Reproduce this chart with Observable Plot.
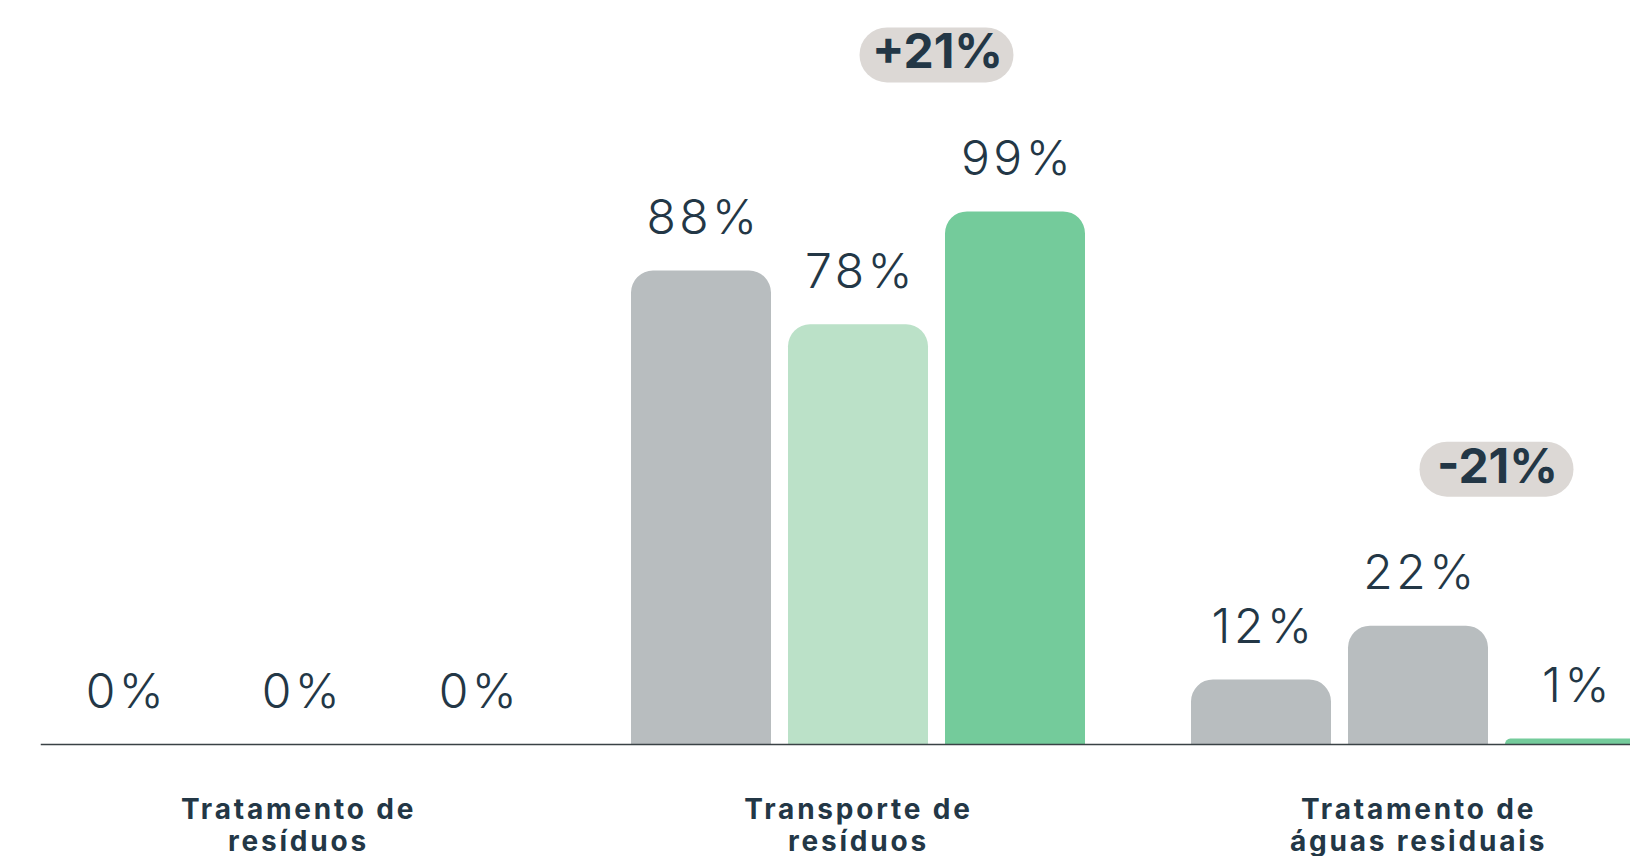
<!DOCTYPE html>
<html><head><meta charset="utf-8">
<script src="https://cdn.jsdelivr.net/npm/d3@7"></script>
<script src="https://cdn.jsdelivr.net/npm/@observablehq/plot@0.6"></script>
<style>
html,body{margin:0;padding:0;background:#fff;overflow:hidden;}
#chart{width:1630px;height:856px;overflow:hidden;}
g[aria-label="fx-axis tick label"]{letter-spacing:2.8px;font-weight:700;}
#chart svg .vlabels, #chart svg .vlabels text{letter-spacing:3.5px;}
</style></head><body><div id="chart"></div>
<script>
// Categories (groups) and their two-line labels
const groups = ["Tratamento de resíduos", "Transporte de resíduos", "Tratamento de águas residuais"];
const groupLabels = ["Tratamento de\nresíduos", "Transporte de\nresíduos", "Tratamento de\náguas residuais"];
// Three bars per group
const series = ["s1", "s2", "s3"];
// Values (%) per group, in series order
const valuesResiduos = [0, 0, 0];
const valuesTransporte = [88, 78, 99];
const valuesAguas = [12, 22, 1];
// Bar kind per group (drives colour)
const kindsResiduos = ["cinza", "claro", "verde"];
const kindsTransporte = ["cinza", "claro", "verde"];
const kindsAguas = ["cinza", "cinza", "verde"];
// Change badges between 2nd and 3rd bars
const changeLabels = [null, "+21%", "-21%"];

const values = [valuesResiduos, valuesTransporte, valuesAguas];
const kinds = [kindsResiduos, kindsTransporte, kindsAguas];
const rows = groups.flatMap((g, i) => series.map((s, j) => ({group: g, series: s, value: values[i][j], kind: kinds[i][j]})));
const pills = groups.map((g, i) => ({group: g, label: changeLabels[i], top: Math.max(values[i][1], values[i][2])})).filter(d => d.label);

// label spread for the empty first group (its zero labels sit wider apart)
const emptyGroup = rows.filter(d => d.group === groups[0]);
const fullGroups = rows.filter(d => d.group !== groups[0]);
const spread = {s1: -15, s2: 4, s3: 24};

const ink = "#233746";
const labelOpts = {fx: "group", x: "series", y: "value", text: d => d.value + "%", lineAnchor: "bottom", dx: 2, dy: -37, fontSize: 48, fontWeight: 300, fill: ink, className: "vlabels"};
const chart = Plot.plot({
  width: 1676, height: 856,
  marginLeft: 41, marginRight: 0, marginTop: 206, marginBottom: 112,
  fx: {domain: groups, paddingInner: 0.185, paddingOuter: 0.051, label: null},
  x: {domain: series, paddingInner: 0.11, paddingOuter: 0, axis: null},
  y: {domain: [0, 100], axis: null},
  color: {domain: ["cinza", "claro", "verde"], range: ["#b8bdbf", "#bbe1c8", "#74cb9b"]},
  style: {fontFamily: "Inter, 'Noto Sans', sans-serif", color: ink, background: "#fff", maxWidth: "none"},
  marks: [
    Plot.barY(rows, {fx: "group", x: "series", y: "value", fill: "kind", ry1: 22}),
    Plot.frame({anchor: "bottom", facet: "super", stroke: "#3a4245", strokeWidth: 1.5, insetLeft: -29}),
    Plot.text(fullGroups, labelOpts),
    ...series.map(s => Plot.text(emptyGroup.filter(d => d.series === s), {...labelOpts, dx: spread[s]})),
    Plot.ruleY(pills, {fx: "group", x1: () => "s2", x2: () => "s3", y: "top", dy: -157, stroke: "#dcd8d5", strokeWidth: 55, strokeLinecap: "round", insetLeft: 99, insetRight: 99}),
    Plot.text(pills, {fx: "group", x: () => "s2", y: "top", text: "label", dx: 79, dy: -159, lineAnchor: "middle", fontSize: 48, fontWeight: 700, fill: ink}),
    Plot.axisFx({anchor: "bottom", tickSize: 0, tickPadding: 52, fontSize: 28, fontWeight: 700, lineHeight: 1.13, label: null, fill: ink, tickFormat: d => groupLabels[groups.indexOf(d)]})
  ]
});
document.getElementById("chart").append(chart);
</script></body></html>
